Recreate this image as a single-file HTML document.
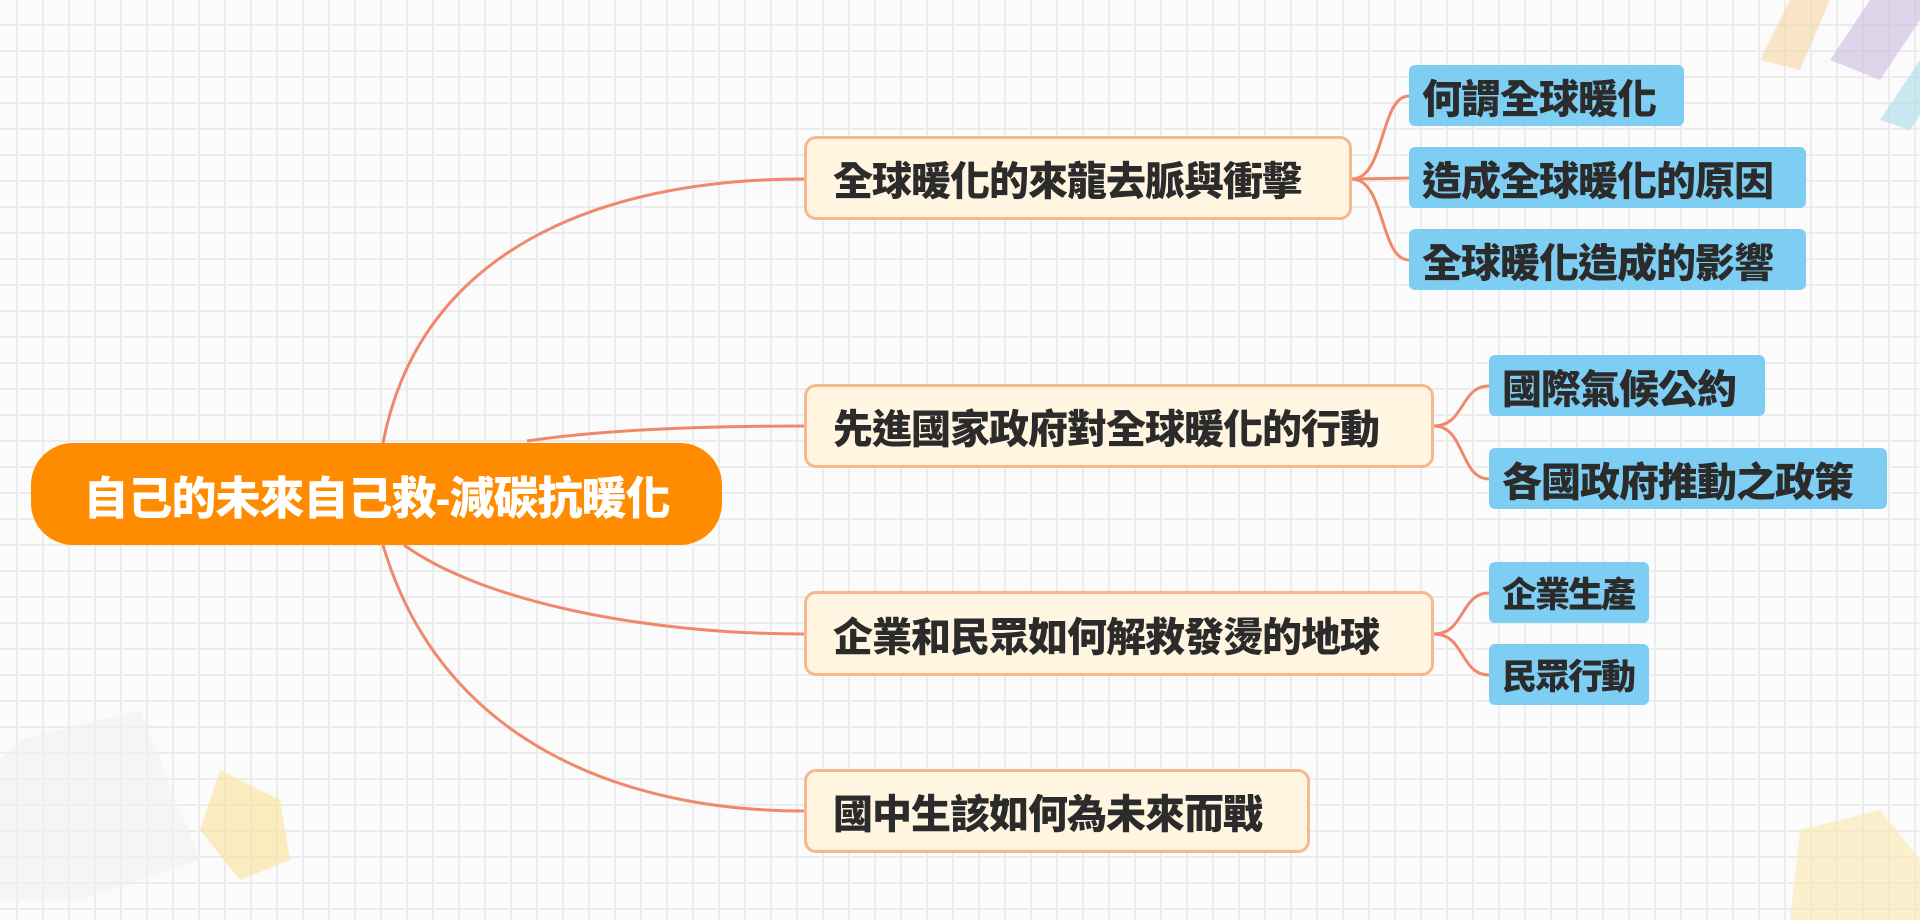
<!DOCTYPE html>
<html><head><meta charset="utf-8">
<style>
html,body{margin:0;padding:0}
body{width:1920px;height:920px;overflow:hidden;position:relative;background-color:#fbfbfb;
background-image:linear-gradient(#ececec 2px,transparent 2px),linear-gradient(90deg,#ececec 2px,transparent 2px);
background-size:26px 26px;background-position:-10px -2px;
font-family:"Liberation Sans","Noto Sans CJK TC",sans-serif;font-weight:900}
.n{position:absolute;box-sizing:border-box;display:flex;align-items:center;color:#2b2b2b;white-space:nowrap;letter-spacing:-1px}
.b{background:#fff5e0;border:3px solid #f5b88f;border-radius:12px;font-size:40px;padding-left:26px}
.l{background:#7ecef4;border-radius:6px;font-size:40px;padding-left:13px}
.root{background:#ff8c00;color:#fff;border-radius:42px;font-size:45px;justify-content:center}
</style></head><body>
<svg width="1920" height="920" style="position:absolute;left:0;top:0">
<g fill="none" stroke="#f0896b" stroke-width="3">
<path d="M383 443 C420 250 600 179 804 179"/>
<path d="M527 441 C600 430 700 426 804 426"/>
<path d="M404 545 C480 600 640 634 804 634"/>
<path d="M383 545 C440 740 620 811 804 811"/>
<path d="M1352 179 C1385 179 1380 96 1409 96"/>
<path d="M1352 179 L1409 178"/>
<path d="M1352 179 C1385 179 1380 260 1409 260"/>
<path d="M1434 426 C1465 426 1460 386 1489 386"/>
<path d="M1434 426 C1465 426 1460 479 1489 479"/>
<path d="M1434 634 C1465 634 1460 593 1489 593"/>
<path d="M1434 634 C1465 634 1460 675 1489 675"/>
</g>
<g opacity="0.6">
<polygon points="1790,0 1760,60 1800,70 1830,0" fill="#f7d8a6"/>
<polygon points="1870,0 1830,60 1880,80 1920,20 1920,0" fill="#cdbde0"/>
<polygon points="1920,60 1880,120 1910,130 1920,115" fill="#a9dde8"/>
<polygon points="20,740 140,710 200,860 80,900 0,900 0,760" fill="#f2f2f2"/>
<polygon points="220,770 280,800 290,860 240,880 200,830" fill="#fbe29a"/>
<polygon points="1800,830 1880,810 1920,860 1920,920 1790,920" fill="#fde7b0"/>
</g>
</svg>
<div class="n root" style="left:31px;top:443px;width:691px;height:102px">自己的未來自己救-減碳抗暖化</div>
<div class="n b" style="left:804px;top:136px;width:548px;height:84px">全球暖化的來龍去脈與衝擊</div>
<div class="n b" style="left:804px;top:384px;width:630px;height:84px">先進國家政府對全球暖化的行動</div>
<div class="n b" style="left:804px;top:591px;width:630px;height:85px">企業和民眾如何解救發燙的地球</div>
<div class="n b" style="left:804px;top:769px;width:506px;height:84px">國中生該如何為未來而戰</div>
<div class="n l" style="left:1409px;top:65px;width:275px;height:61px">何謂全球暖化</div>
<div class="n l" style="left:1409px;top:147px;width:397px;height:61px">造成全球暖化的原因</div>
<div class="n l" style="left:1409px;top:229px;width:397px;height:61px">全球暖化造成的影響</div>
<div class="n l" style="left:1489px;top:355px;width:276px;height:61px">國際氣候公約</div>
<div class="n l" style="left:1489px;top:448px;width:398px;height:61px">各國政府推動之政策</div>
<div class="n l" style="left:1489px;top:562px;width:160px;height:61px;font-size:35px;letter-spacing:-2px">企業生產</div>
<div class="n l" style="left:1489px;top:644px;width:160px;height:61px;font-size:35px;letter-spacing:-2px">民眾行動</div>
</body></html>
